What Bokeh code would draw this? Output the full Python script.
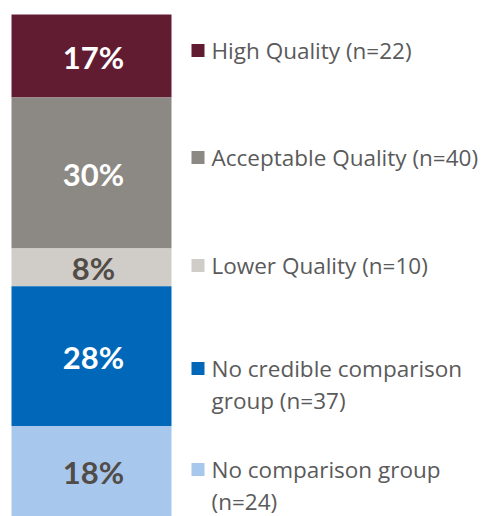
from bokeh.plotting import figure
from bokeh.models import Range1d, ColumnDataSource
from bokeh.core.properties import value
from bokeh.embed import file_html
from bokeh.resources import INLINE

categories = ["High Quality", "Acceptable Quality", "Lower Quality",
              "No credible comparison group", "No comparison group"]
counts = [22, 40, 10, 37, 24]
pct_labels = ["17%", "30%", "8%", "28%", "18%"]
legend_labels = ["High Quality (n=22)", "Acceptable Quality (n=40)", "Lower Quality (n=10)",
                 "No credible comparison\ngroup (n=37)", "No comparison group\n(n=24)"]
colors = ["#621C32", "#8C8984", "#D0CDC9", "#0067B9", "#A8C7EC"]
label_colors = ["#FFFFFF", "#FFFFFF", "#524C48", "#FFFFFF", "#524C48"]

W, H = 500, 516
total = sum(counts)
top_px = 14
units_per_px = total / (H - top_px)
ymax = H * units_per_px

# stacked from top: first category at top
tops, bottoms = [], []
acc = total
for c in counts:
    tops.append(acc)
    bottoms.append(acc - c)
    acc -= c
mids = [(t + b) / 2 for t, b in zip(tops, bottoms)]

p = figure(width=W, height=H, output_backend="svg", toolbar_location=None,
           x_range=Range1d(0, W), y_range=Range1d(0, ymax),
           min_border=0, outline_line_color=None)
p.axis.visible = False
p.grid.visible = False
p.background_fill_color = "white"

src = ColumnDataSource(dict(cat=categories, top=tops, bottom=bottoms, mid=mids,
                            color=colors, lab=pct_labels, lc=label_colors))
p.vbar(x=91, width=160, top="top", bottom="bottom", fill_color="color",
       line_color=None, source=src)
p.text(x=93, y="mid", text="lab", text_color="lc", text_align="center",
       text_baseline="middle", text_font=value("Lato"), text_font_style="bold",
       text_font_size="31px", source=src, y_offset=1)

# legend layout (pixel y of first text line centre), line spacing in px
legend_px = [50, 157, 265, 368, 469]
line_step = 32
leg_y = [(H - y) * units_per_px for y in legend_px]
lsrc = ColumnDataSource(dict(y=leg_y, color=colors))
p.scatter(x=197.5, y="y", marker="square", size=13, fill_color="color",
          line_color=None, source=lsrc)

tx, ty = [], []
for lab, y in zip(legend_labels, legend_px):
    for i, line in enumerate(lab.split("\n")):
        tx.append(line)
        ty.append((H - (y + i * line_step)) * units_per_px)
tsrc = ColumnDataSource(dict(y=ty, t=tx))
p.text(x=211, y="y", text="t", text_color="#5A5A5A", text_align="left",
       text_baseline="middle", text_font=value("Open Sans"), text_font_size="22.5px",
       source=tsrc)

open("out.html", "w").write(file_html(p, INLINE))
